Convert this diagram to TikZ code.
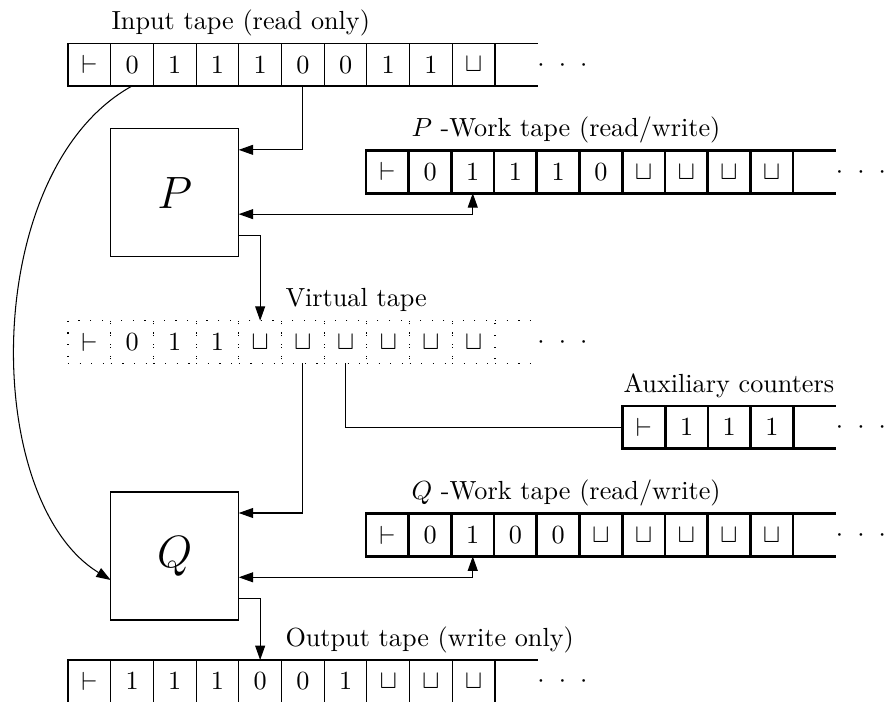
\documentclass[tikz,border=0pt]{standalone}
\usetikzlibrary{arrows.meta,calc}
\begin{document}
\begin{tikzpicture}[x=0.3817pt,y=-0.3817pt,
  >={Triangle[length=5.5pt,width=3.8pt]},
  cellbase/.style={minimum width=16.3pt,minimum height=16.3pt,inner sep=0pt,outer sep=0pt},
  thincell/.style={cellbase,draw,line width=0.4pt},
  thickcell/.style={cellbase,draw,line width=1pt},
  dotcell/.style={cellbase,draw,loosely dotted,line width=0.45pt},
  machine/.style={draw,line width=0.4pt,minimum size=48.86pt,inner sep=0pt,outer sep=0pt,font=\LARGE},
  tapelabel/.style={anchor=base west,inner sep=0pt},
  conn/.style={line width=0.4pt},
  dotsnode/.style={anchor=base,inner sep=0pt}
]
\useasboundingbox (0,0) rectangle (884,702);

% ---------- Input tape ----------
\foreach \t [count=\i from 0] in {\vdash,0,1,1,1,0,0,1,1,\sqcup}
  \node[thincell] (in\i) at ({68+42.7*(\i+0.5)},64.65) {$\t$};
\draw[line width=0.4pt] (in9.north east) -- ++(42.7,0);
\draw[line width=0.4pt] (in9.south east) -- ++(42.7,0);
\node[dotsnode] (indots) at (562.5,71.2) {$\cdot$\hspace{5.4pt}$\cdot$\hspace{5.4pt}$\cdot$};
\node[tapelabel] (inlab) at (111,29.5) {Input tape (read only)};

% ---------- P work tape ----------
\foreach \t [count=\i from 0] in {\vdash,0,1,1,1,0,\sqcup,\sqcup,\sqcup,\sqcup}
  \node[thickcell] (pw\i) at ({366+42.7*(\i+0.5)},171.85) {$\t$};
\draw[line width=1pt] (pw9.north east) -- ++(42.7,0);
\draw[line width=1pt] (pw9.south east) -- ++(42.7,0);
\node[dotsnode] (pwdots) at (861,178.4) {$\cdot$\hspace{5.4pt}$\cdot$\hspace{5.4pt}$\cdot$};
\node[tapelabel] (pwlab) at (411,136.7) {$P$ -Work tape (read/write)};

% ---------- Virtual tape ----------
\foreach \t [count=\i from 0] in {\vdash,0,1,1,\sqcup,\sqcup,\sqcup,\sqcup,\sqcup,\sqcup}
  \node[dotcell] (v\i) at ({68+42.7*(\i+0.5)},342.05) {$\t$};
\draw[loosely dotted,line width=0.45pt] (v9.north east) -- ++(42.7,0);
\draw[loosely dotted,line width=0.45pt] (v9.south east) -- ++(42.7,0);
\node[dotsnode] (vdots) at (562.5,348.6) {$\cdot$\hspace{5.4pt}$\cdot$\hspace{5.4pt}$\cdot$};
\node[tapelabel] (vlab) at (285,306.7) {Virtual tape};

% ---------- Auxiliary counters ----------
\foreach \t [count=\i from 0] in {\vdash,1,1,1}
  \node[thickcell] (ax\i) at ({622.5+42.7*(\i+0.5)},427.35) {$\t$};
\draw[line width=1pt] (ax3.north east) -- ++(42.7,0);
\draw[line width=1pt] (ax3.south east) -- ++(42.7,0);
\node[dotsnode] (axdots) at (861,433.9) {$\cdot$\hspace{5.4pt}$\cdot$\hspace{5.4pt}$\cdot$};
\node[tapelabel] (axlab) at (623,392) {Auxiliary counters};

% ---------- Q work tape ----------
\foreach \t [count=\i from 0] in {\vdash,0,1,0,0,\sqcup,\sqcup,\sqcup,\sqcup,\sqcup}
  \node[thickcell] (qw\i) at ({366+42.7*(\i+0.5)},535.05) {$\t$};
\draw[line width=1pt] (qw9.north east) -- ++(42.7,0);
\draw[line width=1pt] (qw9.south east) -- ++(42.7,0);
\node[dotsnode] (qwdots) at (861,541.6) {$\cdot$\hspace{5.4pt}$\cdot$\hspace{5.4pt}$\cdot$};
\node[tapelabel] (qwlab) at (411,499.7) {$Q$ -Work tape (read/write)};

% ---------- Output tape ----------
\foreach \t [count=\i from 0] in {\vdash,1,1,1,0,0,1,\sqcup,\sqcup,\sqcup}
  \node[thincell] (out\i) at ({68+42.7*(\i+0.5)},681.35) {$\t$};
\draw[line width=0.4pt] (out9.north east) -- ++(42.7,0);
\draw[line width=0.4pt] (out9.south east) -- ++(42.7,0);
\node[dotsnode] (outdots) at (562.5,687.9) {$\cdot$\hspace{5.4pt}$\cdot$\hspace{5.4pt}$\cdot$};
\node[tapelabel] (outlab) at (285,646) {Output tape (write only)};

% ---------- Machines ----------
\node[machine] (P) at (174.7,192.85) {$P$};
\node[machine] (Q) at (174.7,556) {$Q$};

% ---------- Connectors ----------
\draw[conn,->] (in5.south) |- ($(P.north east)+(0,21)$);
\draw[conn,<->] ($(P.north east)+(0,85.3)$) -| (pw2.south);
\draw[conn,->] ($(P.north east)+(0,106.7)$) -| (v4.north);
\draw[conn] (v6.south) |- (ax0.west);
\draw[conn,->] (v5.south) |- ($(Q.north east)+(0,21)$);
\draw[conn,<->] ($(Q.north east)+(0,85.3)$) -| (qw2.south);
\draw[conn,->] ($(Q.north east)+(0,106.7)$) -| (out4.north);
\draw[conn,->] (in1.south) .. controls (-20,170) and (-20,500) .. ($(Q.north west)+(0,88)$);
\end{tikzpicture}
\end{document}
